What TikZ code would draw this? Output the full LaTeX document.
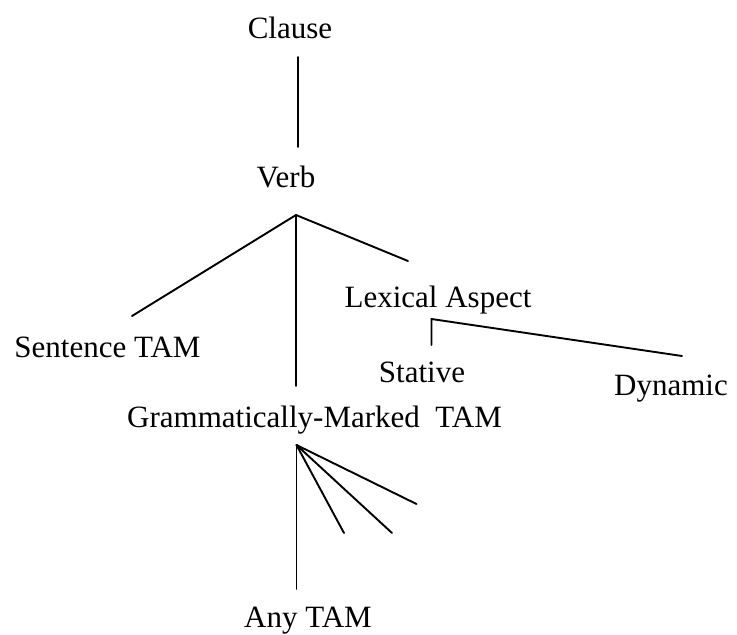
\documentclass[tikz,border=0pt]{standalone}
\usepackage{fontspec}
\setmainfont{Liberation Serif}
\newfontfamily\tmsfont{Liberation Serif}
\begin{document}
\begin{tikzpicture}[x=1pt,y=-1pt,
  lbl/.style={anchor=base,inner sep=0pt,font=\tmsfont\fontsize{31}{36}\selectfont},
  edge/.style={line width=1.9pt,line cap=round,line join=miter}]
\useasboundingbox (0,0) rectangle (737,635);
\node[lbl] (clause) at (290,38) {Clause};
\node[lbl] (verb) at (286,187) {Verb};
\node[lbl] (lex) at (438,307) {Lexical Aspect};
\node[lbl] (sent) at (107.5,357) {Sentence TAM};
\node[lbl] (stat) at (422,382) {Stative};
\node[lbl] (dyn) at (671,395) {Dynamic};
\node[lbl] (gram) at (314.5,427) {Grammatically-Marked\ \ TAM};
\node[lbl] (any) at (308,627) {Any TAM};
% connector points
\coordinate (c1) at (298,57);
\coordinate (c2) at (298,147);
\coordinate (vA) at (296,215);
\coordinate (sE) at (132,316);
\coordinate (gE) at (296,386);
\coordinate (lE) at (408,261);
\coordinate (lxA) at (431.5,345);
\coordinate (lxC) at (431.5,319);
\coordinate (dE) at (682,356);
\coordinate (gA) at (296.5,445);
\coordinate (b1) at (344,533);
\coordinate (b2) at (392,533);
\coordinate (b3) at (416.5,504);
\coordinate (aE) at (296.5,589);
\draw[edge] (c1) -- (c2);
\draw[edge] (sE) -- (vA) -- (lE);
\draw[edge] (vA) -- (gE);
\draw[edge] (lxA) -- (lxC) -- (dE);
\draw[edge] (gA) -- (aE);
\draw[edge] (gA) -- (b1);
\draw[edge] (gA) -- (b2);
\draw[edge] (gA) -- (b3);
\end{tikzpicture}
\end{document}
